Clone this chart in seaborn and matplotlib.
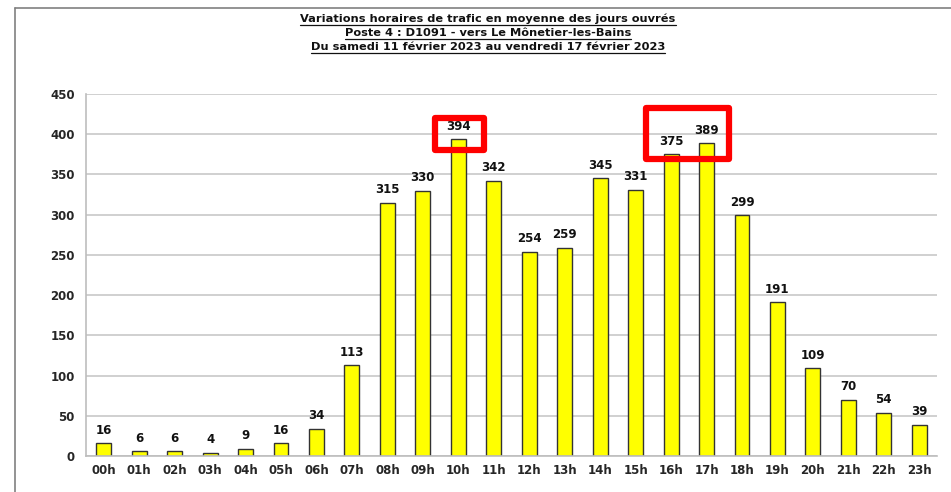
import matplotlib
matplotlib.use("Agg")
import matplotlib.pyplot as plt
import seaborn as sns
import pandas as pd
from matplotlib.patches import Rectangle
from matplotlib.lines import Line2D

hours = [f"{h:02d}h" for h in range(24)]
values = [16, 6, 6, 4, 9, 16, 34, 113, 315, 330, 394, 342, 254, 259, 345, 331, 375, 389, 299, 191, 109, 70, 54, 39]
title_lines = [
    "Variations horaires de trafic en moyenne des jours ouvrés",
    "Poste 4 : D1091 - vers Le Mônetier-les-Bains",
    "Du samedi 11 février 2023 au vendredi 17 février 2023",
]
y_ticks = [0, 50, 100, 150, 200, 250, 300, 350, 400, 450]

sns.set_theme(style="white")
plt.rcParams['font.family'] = ['DejaVu Sans']

df = pd.DataFrame({"hour": hours, "value": values})

fig = plt.figure(figsize=(9.51, 4.92), dpi=100)
W, H = 951, 492
ax = fig.add_axes([86 / W, 1 - 456 / H, (937 - 86) / W, (456 - 94) / H])

sns.barplot(data=df, x="hour", y="value", ax=ax, color="#FFFF00",
            edgecolor="#333333", linewidth=1.0, width=0.42, saturation=1)

ax.set_ylim(0, 450)
ax.set_xlim(-0.5, 23.5)
ax.set_yticks(y_ticks)
ax.set_yticklabels([str(t) for t in y_ticks], fontsize=8.5, fontweight="bold")
ax.set_xticks(range(24))
ax.set_xticklabels(hours, fontsize=8.5, fontweight="bold")
ax.set_xlabel("")
ax.set_ylabel("")
ax.tick_params(axis="y", pad=8, length=0)
ax.tick_params(axis="x", pad=6, length=0)
ax.yaxis.grid(True, color="#c4c4c4", linewidth=1.1)
ax.set_axisbelow(True)
for s in ["top", "right"]:
    ax.spines[s].set_visible(False)
for s in ["left", "bottom"]:
    ax.spines[s].set_color("#bdbdbd")
    ax.spines[s].set_linewidth(1.2)

for i, v in enumerate(values):
    ax.text(i, v + 8, str(v), ha="center", va="bottom", fontsize=8.5, fontweight="bold", color="#111111")

# red highlight boxes
ax.add_patch(Rectangle((9.34, 380), 10.72 - 9.34, 420 - 380, fill=False,
                       edgecolor="#ff0000", linewidth=4.5, clip_on=False, zorder=5,
                       joinstyle="round"))
ax.add_patch(Rectangle((15.28, 369), 17.62 - 15.28, 432 - 369, fill=False,
                       edgecolor="#ff0000", linewidth=4.5, clip_on=False, zorder=5,
                       joinstyle="round"))

# outer frame lines
fig.add_artist(Line2D([15 / W, 15 / W], [0, 1 - 8 / H], transform=fig.transFigure, color="#808080", linewidth=1.2))
fig.add_artist(Line2D([15 / W, 1], [1 - 8 / H, 1 - 8 / H], transform=fig.transFigure, color="#808080", linewidth=1.2))

# title with underline
texts = []
for k, line in enumerate(title_lines):
    t = fig.text(488 / W, 1 - (19 + 14 * k) / H, line, ha="center", va="center",
                 fontsize=8.2, fontweight="bold", color="#111111")
    texts.append(t)
fig.canvas.draw()
r = fig.canvas.get_renderer()
for t in texts:
    bb = t.get_window_extent(renderer=r)
    y = bb.y0 - 0.5
    fig.add_artist(Line2D([bb.x0 / W, bb.x1 / W], [y / H, y / H], transform=fig.transFigure,
                          color="#111111", linewidth=0.9))

fig.savefig("out.png", dpi=100)
